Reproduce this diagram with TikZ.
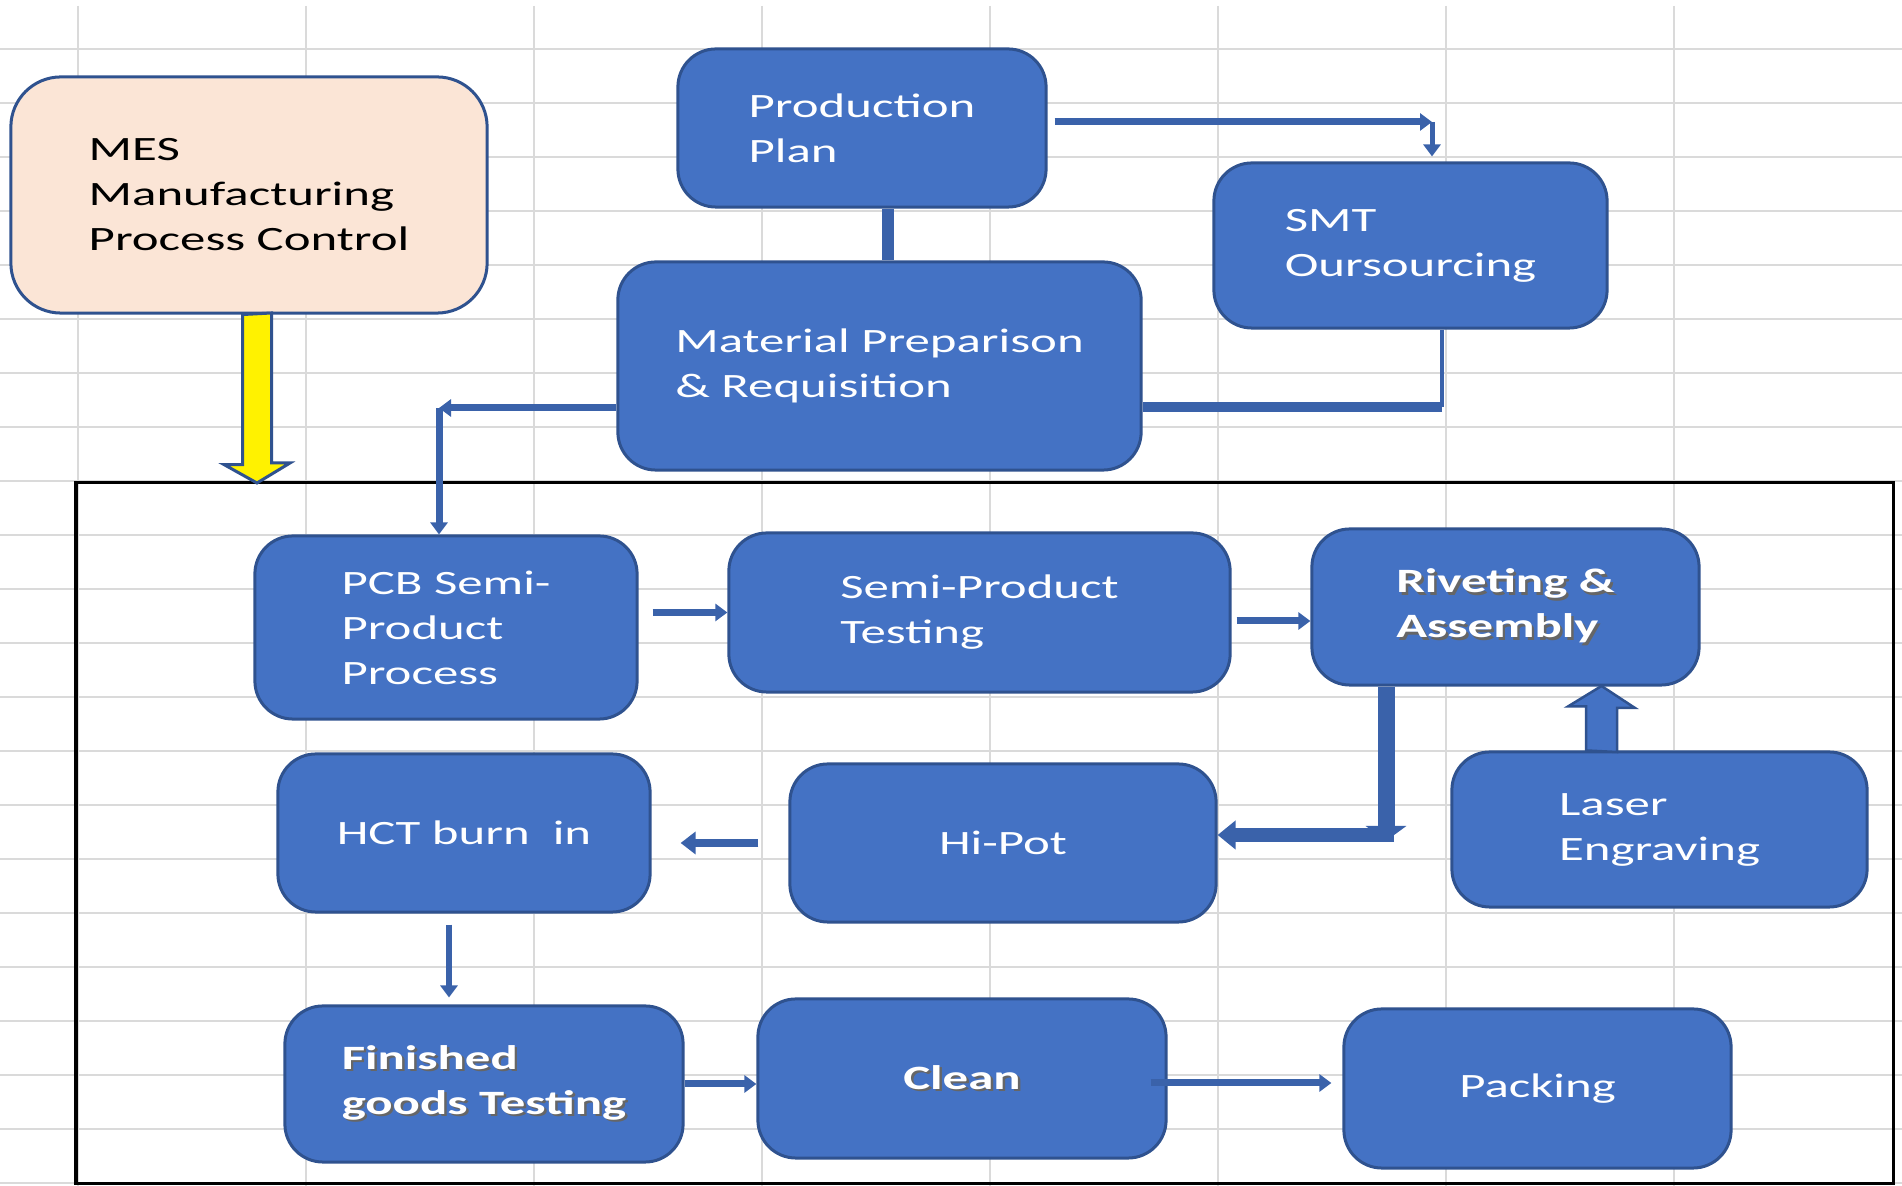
\documentclass[tikz,border=0pt]{standalone}
\usepackage{fontspec}
\setmainfont{Carlito}[FakeStretch=1.49]
\usetikzlibrary{arrows.meta,calc}
\definecolor{boxblue}{HTML}{4472C4}
\definecolor{edgeblue}{HTML}{2F528F}
\definecolor{linkblue}{HTML}{3A62AA}
\definecolor{mespeach}{HTML}{FBE5D6}
\definecolor{gridgrey}{HTML}{DADADA}
\newcommand{\boxfont}{\fontsize{9.7pt}{12.8pt}\selectfont}
\newcommand{\shade}[1]{\makebox[0pt][l]{\hspace{0.7pt}\raisebox{-0.7pt}{\textcolor{black!60}{#1}}}#1}

\begin{document}
\begin{tikzpicture}[x=0.01cm, y=-0.01cm,
    stage/.style={draw=edgeblue, fill=boxblue, line width=0.03cm, rounded corners=0.38cm,
      text=white, font=\boxfont, align=left},
    link/.style={draw=linkblue, line width=0.07cm},
    arrowed/.style={-{Triangle[length=0.12cm, width=0.17cm]}},
    gridline/.style={draw=gridgrey, line width=0.025cm}]
        \useasboundingbox (0,0) rectangle (1902,1186);
        % sheet grid behind everything
        \foreach \gx in {78,306,534,762,990,1218,1446,1674}
            \draw[gridline] (\gx,6) -- (\gx,1186);
        \foreach \gy in {49,103,...,1183}
            \draw[gridline] (0,\gy) -- (1902,\gy);
        \draw[black, line width=0.03cm] (76,483) rectangle (1893,1184);

        \node[stage, fill=mespeach, text=black, minimum width=4.76cm, minimum height=2.36cm,
            rounded corners=0.5cm] (mes) at (249,195) {MES\\Manufacturing\\Process Control};
        \node[stage, minimum width=3.68cm, minimum height=1.58cm] (plan) at (862,128) {Production\\Plan};
        \node[stage, minimum width=3.93cm, minimum height=1.65cm] (smt) at (1410.5,245.5) {SMT\\Oursourcing};
        \node[stage, minimum width=5.23cm, minimum height=2.08cm] (material) at (879.5,366)
            {Material Preparison\\\& Requisition};
        \node[stage, minimum width=3.82cm, minimum height=1.83cm] (pcb) at (446,627.5) {PCB Semi-\\Product\\Process};
        \node[stage, minimum width=5.01cm, minimum height=1.59cm] (semitest) at (979.5,612.5) {Semi-Product\\Testing};
        \node[stage, font=\boxfont\bfseries, minimum width=3.87cm, minimum height=1.56cm] (rivet) at (1505.5,607)
            {\shade{Riveting \&}\\\shade{Assembly}};
        \node[stage, minimum width=4.15cm, minimum height=1.55cm] (laser) at (1659.5,829.5) {Laser\\Engraving};
        \node[stage, minimum width=3.72cm, minimum height=1.58cm] (hct) at (464,833) {HCT burn\ \ in};
        \node[stage, minimum width=4.26cm, minimum height=1.58cm] (hipot) at (1003,843) {Hi-Pot};
        \node[stage, font=\boxfont\bfseries, minimum width=3.98cm, minimum height=1.56cm] (finished) at (484,1084)
            {\shade{Finished}\\\shade{goods Testing}};
        \node[stage, font=\boxfont\bfseries, minimum width=4.08cm, minimum height=1.59cm] (clean) at (962,1078.5)
            {\shade{Clean}};
        \node[stage, minimum width=3.87cm, minimum height=1.59cm] (packing) at (1537.5,1088.5) {Packing};

        % upper part
        \coordinate (plancorner) at (1432,122);
        \draw[link, arrowed, shorten <=0.07cm] (plancorner -| plan.east) -- (plancorner);
        \draw[link, line width=0.05cm, arrowed, shorten >=0.05cm] (plancorner) -- (plancorner |- smt.north);
        \coordinate (planlink) at (888,0);
        \draw[link, line width=0.12cm] (planlink |- plan.south) -- (planlink |- material.north);
        \coordinate (smtcorner) at (1442,407);
        \draw[link, line width=0.04cm] (smtcorner |- smt.south) -- (smtcorner);
        \draw[link, line width=0.1cm] (smtcorner) -- (smtcorner -| material.east);
        \coordinate (matcorner) at (439,408);
        \draw[link, arrowed] (matcorner -| material.west) -- (matcorner);
        \draw[link, arrowed] (matcorner) -- (matcorner |- pcb.north);
        \coordinate (mestip) at (257,483);
        \filldraw[fill=yellow, draw=edgeblue, line width=0.03cm] (mes.south -| mestip) ++(-14.5,0) -- ++(0,150)
            -- ++(-18.5,0) -- (mestip) -- ++(33,-20) -- ++(-18.5,0) -- ++(0,-150) -- cycle;

        % process flow
        \draw[link, arrowed, shorten <=0.14cm] (semitest.west -| pcb.east) -- (semitest.west);
        \draw[link, arrowed, shorten <=0.05cm] ($(semitest.east)+(0,8.5)$) -- ($(rivet.west)+(0,14)$);
        \coordinate (rivcorner) at (1386,835);
        \draw[link, line width=0.17cm, -{Triangle[length=0.15cm, width=0.4cm]}] (rivcorner |- rivet.south)
            -- ($(rivcorner)+(0,6)$);
        \draw[link, line width=0.14cm, -{Triangle[length=0.18cm, width=0.28cm]}] ($(rivcorner)+(8,0)$)
            -- (rivcorner -| hipot.east);
        \coordinate (lasertip) at (1601.5,686);
        \filldraw[fill=boxblue, draw=edgeblue, line width=0.025cm] (laser.north -| lasertip) ++(-15.5,0) -- ++(0,-44)
            -- ++(-18,0) -- (lasertip) -- ++(33.5,22) -- ++(-18,0) -- ++(0,44) -- cycle;
        \draw[link, line width=0.08cm, -{Triangle[length=0.15cm, width=0.22cm]}, shorten <=0.3cm, shorten >=0.29cm]
            (hipot.west) -- (hipot.west -| hct.east);
        \draw[link, line width=0.06cm, arrowed] ($(hct.south)+(-15,11)$) -- ($(finished.north)+(-35,-7)$);
        \draw[link, arrowed] (finished.east) -- (finished.east -| clean.west);
        \draw[link, arrowed] ($(clean.east)+(-17,4.5)$) -- ($(packing.west)+(-11,-5.5)$);
    \end{tikzpicture}
\end{document}
